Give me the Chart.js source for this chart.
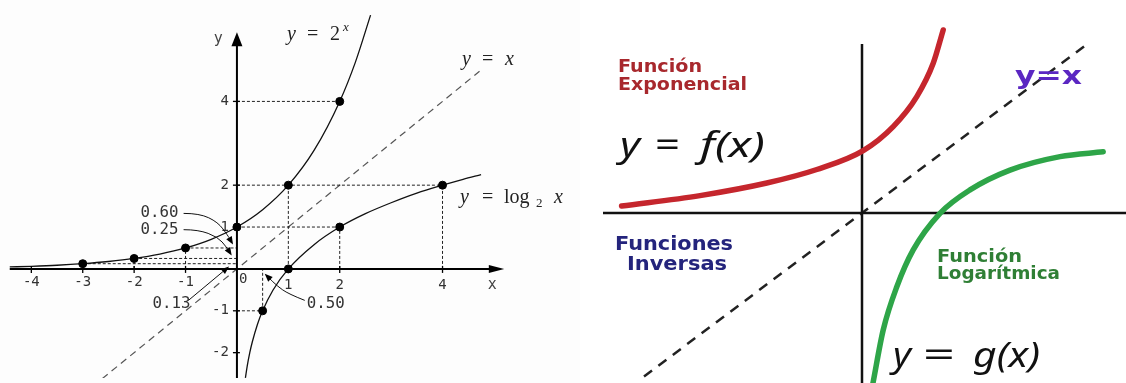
<!DOCTYPE html>
<html><head><meta charset="utf-8">
<script src="https://cdn.jsdelivr.net/npm/chart.js@4/dist/chart.umd.min.js"></script>
<style>
html,body{margin:0;padding:0;background:#fff;}
body{width:1126px;height:383px;position:relative;overflow:hidden}
#pl{position:absolute;left:0;top:0;width:580px;height:383px;background:#fdfdfd}
#pr{position:absolute;left:580px;top:0;width:546px;height:383px;background:#fff}
canvas{display:block}
</style></head><body>
<div id="pl"><canvas id="cl" width="580" height="383"></canvas></div>
<div id="pr"><canvas id="cr" width="546" height="383"></canvas></div>
<script>
// ===== Left panel: y = 2^x, y = x, y = log2 x =====
const expX = [-4.42, -4, -3.5, -3, -2.5, -2, -1.5, -1, -0.5, 0, 0.5, 1, 1.5, 2, 2.3, 2.6];
const expY = [0.047, 0.063, 0.088, 0.125, 0.177, 0.25, 0.354, 0.5, 0.707, 1, 1.414, 2, 2.83, 4, 4.92, 6.06];
const logX = [0.165, 0.2, 0.25, 0.3, 0.4, 0.5, 0.7, 1, 1.5, 2, 2.5, 3, 3.5, 4, 4.4, 4.75];
const logY = [-2.6, -2.32, -2, -1.74, -1.32, -1, -0.51, 0, 0.58, 1, 1.32, 1.58, 1.81, 2, 2.14, 2.25];
const markX = [-3, -2, -1, 0, 1, 2, 0.5, 1, 2, 4];
const markY = [0.125, 0.25, 0.5, 1, 2, 4, -1, 0, 1, 2];
const identityLeft = [-2.62, 4.72];
const guides = [[0,4,2,4],[0,2,4,2],[0,1,2,1],[1,0,1,2],[2,0,2,1],[4,0,4,2],
  [-1,0.5,0,0.5],[-2,0.25,0,0.25],[-3,0.125,0,0.125],[-1,0,-1,0.5],[-2,0,-2,0.25],[-3,0,-3,0.125],
  [0,-1,0.5,-1],[0.5,-1,0.5,0]];
const xTicks = [-4, -3, -2, -1, 1, 2, 4];
const xTickLabels = ['-4', '-3', '-2', '-1', '1', '2', '4'];
const yTicks = [4, 2, 1, -1, -2];
const yTickLabels = ['4', '2', '1', '-1', '-2'];
const calloutLabels = ['0.60', '0.25', '0.13', '0.50'];

// ===== Right panel: f(x), g(x), y = x =====
const fX = [-6.01, -4.05, -2.38, -1.13, 0.03, 0.78, 1.37, 1.78, 2.03];
const fY = [0.23, 0.58, 1.0, 1.45, 2.08, 2.88, 3.88, 4.99, 6.1];
const gX = [0.27, 0.53, 0.87, 1.28, 1.95, 2.7, 3.7, 4.95, 6.03];
const gY = [-5.7, -3.9, -2.46, -1.23, -0.01, 0.77, 1.43, 1.88, 2.04];
const identityRight = [-5.45, 5.65];

const pts = (xs, ys) => xs.map((x, i) => ({x, y: ys[i]}));
const seg = list => { const d = []; list.forEach((s, i) => { d.push({x:s[0],y:s[1]},{x:s[2],y:s[3]}); if (i < list.length-1) d.push({x:s[2],y:null}); }); return d; };

function baseOptions(xmin, xmax, ymin, ymax, extra) {
  return {
    responsive:false, animation:false, events:[],
    layout:{padding:0},
    plugins:Object.assign({legend:{display:false}, tooltip:{enabled:false}}, extra||{}),
    elements:{point:{radius:0, hoverRadius:0}},
    scales:{
      x:{type:'linear', min:xmin, max:xmax, display:false},
      y:{type:'linear', min:ymin, max:ymax, display:false}
    }
  };
}

function drawLabel(ctx, X, Y, lab) {
  const px = X(lab.x), py = Y(lab.y);
  for (const p of lab.parts) {
    ctx.font = p.font; ctx.fillStyle = p.color || lab.color || '#000';
    ctx.textBaseline = 'alphabetic'; ctx.textAlign = 'left';
    const m = ctx.measureText(p.t).width;
    const w = p.w || m;
    let left = px + (p.dx || 0);
    if (lab.align === 'center') left -= w / 2;
    ctx.save(); ctx.translate(left, py + (p.dy || 0)); ctx.scale(w / m, 1); ctx.fillText(p.t, 0, 0); ctx.restore();
  }
}
function arrowHead(ctx, bx, by, tx, ty, hw) {
  const dx = tx - bx, dy = ty - by, L = Math.hypot(dx, dy), nx = -dy / L, ny = dx / L;
  ctx.beginPath(); ctx.moveTo(tx, ty); ctx.lineTo(bx + nx*hw, by + ny*hw); ctx.lineTo(bx - nx*hw, by - ny*hw); ctx.closePath(); ctx.fill();
}

const leftPlugin = {
  id:'leftAnnot',
  afterDatasetsDraw(chart) {
    const ctx = chart.ctx, X = v => chart.scales.x.getPixelForValue(v), Y = v => chart.scales.y.getPixelForValue(v);
    ctx.save();
    ctx.strokeStyle = '#000'; ctx.fillStyle = '#000'; ctx.lineWidth = 1.3;
    xTicks.forEach(v => { ctx.beginPath(); ctx.moveTo(X(v), Y(0)-3); ctx.lineTo(X(v), Y(0)+4); ctx.stroke(); });
    yTicks.forEach(v => { ctx.beginPath(); ctx.moveTo(X(0)-4, Y(v)); ctx.lineTo(X(0)+3, Y(v)); ctx.stroke(); });
    arrowHead(ctx, X(4.9), Y(0), X(5.2), Y(0), 4);
    arrowHead(ctx, X(0), Y(5.32), X(0), Y(5.65), 5.5);
    ctx.fillStyle = '#333'; ctx.font = '14px "DejaVu Sans Mono"';
    ctx.textAlign = 'center'; ctx.textBaseline = 'top';
    xTicks.forEach((v, i) => ctx.fillText(xTickLabels[i], X(v), Y(0) + (v < 0 ? 6 : 9)));
    ctx.textAlign = 'right'; ctx.textBaseline = 'middle';
    yTicks.forEach((v, i) => ctx.fillText(yTickLabels[i], X(0) - 8, Y(v)));
    const leaders = [
      [[-1.038,1.326],[-0.727,1.326],[-0.369,1.116],[-0.178,0.798],[-0.076,0.581]],
      [[-1.038,0.937],[-0.751,0.937],[-0.369,0.760],[-0.210,0.528],[-0.101,0.319]],
      [[-0.943,-0.751],[-0.153,0.058]],
      [[1.319,-0.751],[1.0,-0.597],[0.778,-0.402],[0.618,-0.209],[0.541,-0.116]]
    ];
    ctx.strokeStyle = '#111'; ctx.fillStyle = '#000'; ctx.lineWidth = 1;
    leaders.forEach(l => {
      const p = l.map(a => [X(a[0]), Y(a[1])]);
      const n = p.length, t = p[n-1], b0 = p[n-2];
      const dx = t[0]-b0[0], dy = t[1]-b0[1], L = Math.hypot(dx, dy);
      const base = [t[0] - dx/L*8, t[1] - dy/L*8];
      ctx.beginPath(); ctx.moveTo(p[0][0], p[0][1]);
      for (let i = 1; i < n-1; i++) {
        const mx = (p[i][0] + p[i+1][0]) / 2, my = (p[i][1] + p[i+1][1]) / 2;
        ctx.quadraticCurveTo(p[i][0], p[i][1], i === n-2 ? base[0] : mx, i === n-2 ? base[1] : my);
      }
      if (n === 2) ctx.lineTo(base[0], base[1]);
      ctx.stroke();
      arrowHead(ctx, base[0], base[1], t[0], t[1], 3.2);
    });
    const serif = '20px "Liberation Serif"', serifI = 'italic 20px "Liberation Serif"';
    const mono = '15px "DejaVu Sans Mono"';
    const labels = [
      {x:0.975, y:5.465, color:'#222', parts:[{t:'y',font:serifI},{t:'=',font:serif,dx:20},{t:'2',font:serif,dx:43},{t:'x',font:'italic 13px "Liberation Serif"',dx:56,dy:-9}]},
      {x:4.379, y:4.86, color:'#222', parts:[{t:'y',font:serifI},{t:'=',font:serif,dx:20},{t:'x',font:serifI,dx:43}]},
      {x:4.34, y:1.58, color:'#222', parts:[{t:'y',font:serifI},{t:'=',font:serif,dx:22},{t:'log',font:serif,dx:44},{t:'2',font:'13px "Liberation Serif"',dx:76,dy:4},{t:'x',font:serifI,dx:94}]},
      {x:4.97, y:-0.488, color:'#444', align:'center', parts:[{t:'x',font:'15px "DejaVu Sans Mono"'}]},
      {x:-0.363, y:5.395, color:'#444', align:'center', parts:[{t:'y',font:'15px "DejaVu Sans Mono"'}]},
      {x:0.124, y:-0.326, color:'#333', align:'center', parts:[{t:'0',font:'14px "DejaVu Sans Mono"'}]},
      {x:-1.874, y:1.233, color:'#333', parts:[{t:calloutLabels[0],font:mono,w:38}]},
      {x:-1.874, y:0.837, color:'#333', parts:[{t:calloutLabels[1],font:mono,w:38}]},
      {x:-1.644, y:-0.93, color:'#333', parts:[{t:calloutLabels[2],font:mono,w:38}]},
      {x:1.358, y:-0.942, color:'#333', parts:[{t:calloutLabels[3],font:mono,w:38}]}
    ];
    labels.forEach(l => drawLabel(ctx, X, Y, l));
    ctx.restore();
  }
};

new Chart(document.getElementById('cl'), {
  type:'scatter',
  data:{datasets:[
    {data:pts(markX, markY), showLine:false, pointRadius:4, pointHoverRadius:4, backgroundColor:'#000', borderColor:'#000', order:1},
    {data:pts(expX, expY), showLine:true, borderColor:'#111', borderWidth:1.3, cubicInterpolationMode:'monotone', order:2},
    {data:pts(logX, logY), showLine:true, borderColor:'#111', borderWidth:1.3, cubicInterpolationMode:'monotone', order:2},
    {data:seg([[-4.42,0,4.92,0],[0,-2.61,0,5.35]]), showLine:true, borderColor:'#000', borderWidth:2, order:3},
    {data:seg(guides), showLine:true, borderColor:'#222', borderWidth:1, borderDash:[3,2], order:4},
    {data:pts(identityLeft, identityLeft), showLine:true, borderColor:'#555', borderWidth:1.2, borderDash:[7,5], order:5}
  ]},
  options:baseOptions(-4.5124, 6.5774, -2.6047, 6.3023),
  plugins:[leftPlugin]
});

const rightPlugin = {
  id:'rightAnnot',
  afterDatasetsDraw(chart) {
    const ctx = chart.ctx, X = v => chart.scales.x.getPixelForValue(v), Y = v => chart.scales.y.getPixelForValue(v);
    ctx.save();
    const big = '34px "Noto Sans"', bigI = 'italic 34px "Noto Sans"';
    const red = '#a8282d', navy = '#24247c', green = '#2f7f35', purple = '#5b27c2';
    const labels = [
      {x:-6.1, y:4.7, color:red, parts:[{t:'Función', font:'bold 17px "DejaVu Sans"', w:84}]},
      {x:-6.1, y:4.1, color:red, parts:[{t:'Exponencial', font:'bold 17px "DejaVu Sans"', w:129}]},
      {x:-6.05, y:1.867, color:'#111', parts:[{t:'y',font:bigI,w:20},{t:'=',font:big,dx:35,w:25},{t:'f(x)',font:bigI,dx:80,w:65}]},
      {x:3.825, y:4.3, color:purple, parts:[{t:'y=x', font:'bold 25px "DejaVu Sans"', w:67}]},
      {x:-4.7, y:-1.233, color:navy, align:'center', parts:[{t:'Funciones', font:'bold 19px "DejaVu Sans"', w:118}]},
      {x:-4.625, y:-1.9, color:navy, align:'center', parts:[{t:'Inversas', font:'bold 19px "DejaVu Sans"', w:100}]},
      {x:1.875, y:-1.633, color:green, parts:[{t:'Función', font:'bold 17px "DejaVu Sans"', w:85}]},
      {x:1.875, y:-2.2, color:green, parts:[{t:'Logarítmica', font:'bold 17px "DejaVu Sans"', w:123}]},
      {x:0.775, y:-5.133, color:'#111', parts:[{t:'y',font:bigI,w:18},{t:'=',font:big,dx:30,w:32},{t:'g(x)',font:bigI,dx:80,w:67}]}
    ];
    labels.forEach(l => drawLabel(ctx, X, Y, l));
    ctx.restore();
  }
};

new Chart(document.getElementById('cr'), {
  type:'scatter',
  data:{datasets:[
    {data:pts(fX, fY), showLine:true, borderColor:'#c5262d', borderWidth:5.5, borderCapStyle:'round', cubicInterpolationMode:'monotone', order:1},
    {data:pts(gX, gY), showLine:true, borderColor:'#2ea548', borderWidth:5.5, borderCapStyle:'round', cubicInterpolationMode:'monotone', order:1},
    {data:seg([[-6.475,0,6.6,0],[0,5.63,0,-5.7]]), showLine:true, borderColor:'#111', borderWidth:2.5, order:2},
    {data:pts(identityRight, identityRight), showLine:true, borderColor:'#222', borderWidth:2.5, borderDash:[10,8], order:3}
  ]},
  options:baseOptions(-7.05, 6.6, -5.6667, 7.1),
  plugins:[rightPlugin]
});
</script>
</body></html>
